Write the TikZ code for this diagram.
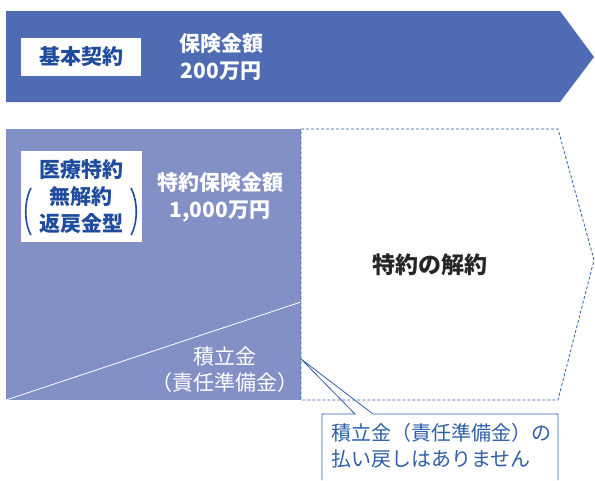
\documentclass[tikz,border=0pt]{standalone}
\usepackage{fontspec}
\setmainfont{Noto Sans CJK JP}
\usepackage{xcolor}
\usepackage{tikz}

\definecolor{mainblue}{HTML}{4F6BB4}
\definecolor{riderblue}{HTML}{8290C6}
\definecolor{lineblue}{HTML}{2E5FA8}
\definecolor{textblue}{HTML}{1F4C9C}

\begin{document}
\begin{tikzpicture}[x=1pt, y=-1pt,
    label/.style={inner sep=0pt, align=center, font=\fontsize{21}{27}\selectfont},
    boldlabel/.style={label, font=\bfseries\fontsize{21}{27}\selectfont},
    whitebox/.style={fill=white, draw=none}]
    \useasboundingbox (0,0) rectangle (595,480);
    % base contract arrow
    \fill[mainblue] (6,11) -- (560,11) -- (594,57) -- (560,102) -- (6,102) -- cycle;
    \fill[whitebox] (21,38) rectangle (141,76);
    \node[boldlabel, textblue] (base) at (81,57) {基本契約};
    \node[boldlabel, white] (baseamt) at (221,57) {保険金額\\200万円};

    % rider
    \fill[riderblue] (6,129) rectangle (301,400);
    \draw[white, line width=0.8pt] (6,400) -- (301,302);
    \draw[lineblue, line width=0.8pt, dash pattern=on 3pt off 2pt]
        (301,129) -- (558,129) -- (594,260) -- (558,400) -- (301,400) -- cycle;
    \fill[whitebox] (21,151) rectangle (142,242);
    \node[boldlabel, textblue, font=\bfseries\fontsize{21}{27}\selectfont] (rider) at (81,197) {医療特約\\無解約\\返戻金型};
    \draw[textblue, line width=1.6pt] (31,188) .. controls (24,201) and (24,223) .. (31,235);
    \draw[textblue, line width=1.6pt] (131,188) .. controls (138,201) and (138,223) .. (131,235);
    \node[boldlabel, white] (rideramt) at (220,197) {特約保険金額\\1,000万円};
    \node[label, white, font=\fontsize{21}{26}\selectfont] (reserve) at (225,370) {積立金\\（責任準備金）};
    \node[boldlabel, black!85, font=\bfseries\fontsize{23}{27}\selectfont] (cancel) at (430,265) {特約の解約};

    % callout
    \coordinate (tip) at (301,359);
    \fill[white] (322,414) rectangle (558,480);
    \draw[lineblue, line width=0.8pt] (322,480) -- (322,414) -- (355,414) -- (tip)
        -- (373,414) -- (558,414) -- (558,480);
    \node[label, lineblue, anchor=north west, align=left,
        font=\fontsize{20}{26}\selectfont] (note) at (331,423) {積立金（責任準備金）の\\払い戻しはありません};
\end{tikzpicture}
\end{document}
